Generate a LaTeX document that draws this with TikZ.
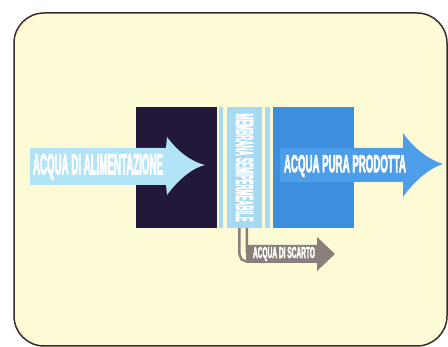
\documentclass[tikz,border=0pt]{standalone}
\usepackage{fontspec}
\setmainfont{Liberation Sans}
\newfontfamily\heavyfont{Liberation Sans Bold}[FakeBold=4]
\usepackage{graphicx}
\usetikzlibrary{positioning,calc}
\definecolor{paper}{HTML}{FDFBD5}
\definecolor{frameline}{HTML}{3A2C30}
\definecolor{inkdark}{HTML}{22193A}
\definecolor{feedblue}{HTML}{B2E4F8}
\definecolor{membblue}{HTML}{A6DAF4}
\definecolor{pureblue}{HTML}{3D8EDF}
\definecolor{flowblue}{HTML}{4C9EE9}
\definecolor{wastegray}{HTML}{8A7F7A}
\newcommand{\fitlabel}[3]{\resizebox{#1}{#2}{\heavyfont #3}}
\tikzset{
  frame/.style={draw=frameline, line width=1.5pt, fill=paper, rounded corners=30pt},
  block/.style={anchor=north west, inner sep=0pt, outer sep=0pt, minimum height=121pt},
  strip/.style={block, fill=membblue},
  flow/.style={fill=#1},
  pipe/.style={draw=wastegray, line width=2.5pt, double=paper, double distance=5pt, rounded corners=5pt},
  lbl/.style={text=white, inner sep=0pt, outer sep=0pt}
}
\begin{document}
\begin{tikzpicture}[x=1pt,y=-1pt]
  \useasboundingbox (0,0) rectangle (448,347);
  \fill[white] (0,0) rectangle (448,347);
  \path[frame] (14,13) rectangle (447,346);
  \node[block, fill=inkdark, minimum width=81pt] (tank) at (136,107) {};
  \node[strip, minimum width=4pt] (strip1) at (219,107) {};
  \node[strip, minimum width=35pt] (memb) at (227,107) {};
  \node[strip, minimum width=5pt] (strip2) at (265,107) {};
  \node[block, fill=pureblue, minimum width=81pt] (pure) at (273,107) {};
  \coordinate (drain) at (252,258);
  \fill[flow=feedblue] (30,148) -- (166,148) -- (167,137) .. controls (178,152) and (192,162) .. (205,165)
    .. controls (192,168) and (178,180) .. (167,195) -- (166,185) -- (30,185) -- cycle;
  \fill[flow=flowblue] (280,148) -- (403,148) -- (403,133) .. controls (415,150) and (430,160) .. (443,164)
    .. controls (430,168) and (415,180) .. (403,197) -- (403,182) -- (280,182) -- cycle;
  \draw[pipe] ([xshift=-1.5pt]memb.south) |- (drain);
  \fill[flow=wastegray] (246,245) -- (317,245) -- (317,237) -- (335,254) -- (317,271) -- (317,263) -- (246,263) -- cycle;
  \node[lbl] (feedtxt) at (98,167) {\fitlabel{130pt}{20pt}{ACQUA DI ALIMENTAZIONE}};
  \node[lbl] (puretxt) at (345,166) {\fitlabel{122pt}{17pt}{ACQUA PURA PRODOTTA}};
  \node[lbl] (wastetxt) at (284,254) {\fitlabel{62pt}{11pt}{ACQUA DI SCARTO}};
  \node[lbl, rotate=-90] (membtxt) at (memb.center) {\fitlabel{108pt}{17pt}{MEMBRANA SEMIPERMEABILE}};
\end{tikzpicture}
\end{document}
